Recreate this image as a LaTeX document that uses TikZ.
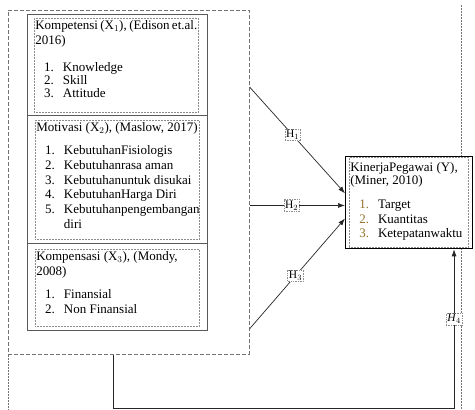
\documentclass[tikz,border=0pt]{standalone}
\usepackage{fontspec}
\setmainfont{Liberation Serif}
\usetikzlibrary{calc,arrows.meta}

\definecolor{numbrown}{RGB}{150,115,45}

\newcommand{\boxtext}[3]{\parbox[c][#1][t]{#2}{\fontsize{13}{14.8}\selectfont\strut #3}}
\newcommand{\itemlist}[2][7pt]{\par\vspace{#1}\hspace*{9pt}\begin{tabular}[t]{@{}r@{\hspace{9pt}}l@{}}#2\end{tabular}}

\begin{document}
\begin{tikzpicture}[x=1pt,y=-1pt,
    variable group/.style={draw=black!55,line width=0.8pt,dash pattern=on 4pt off 2pt,anchor=north west,inner sep=0pt},
    variable box/.style={draw=black!65,line width=1.3pt,anchor=north west,inner sep=0pt},
    text frame/.style={draw=black!45,densely dotted,line width=0.5pt,anchor=north west,inner sep=1pt},
    hypothesis/.style={draw=black!85,line width=0.7pt,-{Latex[length=7pt,width=5pt]}},
    hyp label/.style={draw=black!45,densely dotted,fill=white,inner sep=1.2pt,font=\fontsize{11.5}{12}\selectfont},
    frame line/.style={draw=black!55,line width=0.5pt,dash pattern=on 2pt off 1pt}]
  \useasboundingbox (0,0) rectangle (475,410);

  \node[variable group,minimum width=241pt,minimum height=344pt] (independent) at (8,10) {};
  \draw[frame line] (independent.south west) -- ++(0,56);
  \draw[frame line] (461,5) -- (461,410);

  \node[variable box,minimum width=180pt,minimum height=101pt] (kompetensi) at (27,14) {};
  \node[variable box,minimum width=180pt,minimum height=128pt] (motivasi) at (27,115) {};
  \node[variable box,minimum width=180pt,minimum height=87pt] (kompensasi) at (27,243) {};

  \node[text frame] (kompetensi text) at (34,18) {
    \boxtext{92pt}{162pt}{Kompetensi (X$_1$), (Edison et.al.\\ 2016)
      \itemlist[12pt]{1.&Knowledge\\[-1.5pt] 2.&Skill\\[-1.5pt] 3.&Attitude}}
  };
  \node[text frame] (motivasi text) at (35,120) {
    \boxtext{117pt}{162pt}{Motivasi (X$_2$), (Maslow, 2017)
      \itemlist[8pt]{1.&KebutuhanFisiologis\\ 2.&Kebutuhanrasa aman\\ 3.&Kebutuhanuntuk disukai\\
                4.&KebutuhanHarga Diri\\ 5.&Kebutuhanpengembangan\\ &diri}}
  };
  \node[text frame] (kompensasi text) at (35,249) {
    \boxtext{75pt}{162pt}{Kompensasi (X$_3$), (Mondy,\\ 2008)
      \itemlist[8pt]{1.&Finansial\\ 2.&Non Finansial}}
  };

  \node[variable box,draw=black,fill=white,minimum width=127pt,minimum height=92pt] (kinerja) at (345,156) {};
  \node[text frame,inner ysep=4pt] (kinerja text) at (349,157) {
    \boxtext{82pt}{117pt}{KinerjaPegawai (Y),\\[-2pt] (Miner, 2010)
      \itemlist[9pt]{\textcolor{numbrown}{1.}&Target\\ \textcolor{numbrown}{2.}&Kuantitas\\ \textcolor{numbrown}{3.}&Ketepatanwaktu}}
  };

  \coordinate (h1start) at ($(independent.north east)!0.224!(independent.south east)$);
  \coordinate (h1end) at ($(kinerja.north west)!0.4!(kinerja.south west)$);
  \coordinate (h2end) at ($(kinerja.north west)!0.53!(kinerja.south west)$);
  \coordinate (h3start) at ($(independent.north east)!0.924!(independent.south east)$);
  \coordinate (h3end) at ($(kinerja.north west)!0.67!(kinerja.south west)$);
  \coordinate (h4start) at ($(independent.south west)!0.436!(independent.south east)$);
  \coordinate (h4end) at ($(kinerja.south west)!0.85!(kinerja.south east)$);
  \coordinate (h4low) at (0,408);

  \draw[hypothesis] (h1start) -- node[hyp label,pos=.45] {H$_1$} (h1end);
  \draw[hypothesis] (independent.east |- h2end) -- node[hyp label,pos=.44] {H$_2$} (h2end);
  \draw[hypothesis] (h3start) -- node[hyp label,pos=.48] {H$_3$} (h3end);
  \draw[hypothesis] (h4start) -- (h4start |- h4low) -- (h4end |- h4low)
                    -- node[hyp label,pos=.56] {\textit{H}$_4$} (h4end);
\end{tikzpicture}
\end{document}
